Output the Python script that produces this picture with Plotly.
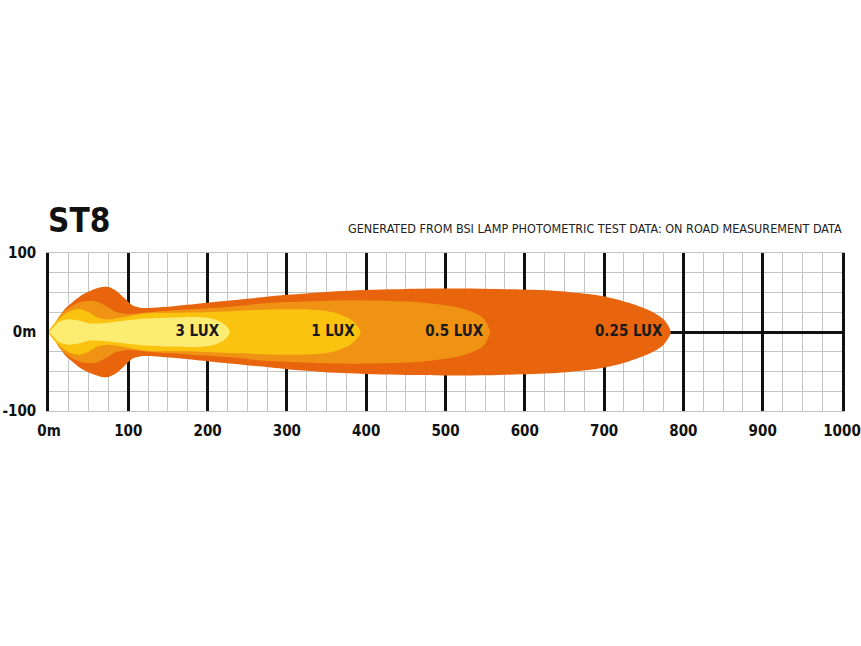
import plotly.graph_objects as go

# ---- data: beam contour half-widths (m) along distance (m) ----
lux025_x = [0, 10, 20, 30, 40, 54, 65, 75, 85, 95, 105, 118, 135, 160, 200, 250, 300, 370, 450, 520, 580, 640, 695, 730, 758, 775, 784]
lux025_h = [0, 14, 29, 38, 46, 53, 56.5, 57, 52, 43, 34, 30.5, 31, 33, 37, 42, 47, 52, 54.5, 55, 54, 52, 46, 37.5, 27, 16, 0]

lux05_x = [0, 6, 12, 20, 29, 37, 45, 58, 66, 75, 83, 95, 110, 125, 150, 184, 230, 268, 320, 367, 420, 470, 500, 520, 535, 548, 556]
lux05_h = [0, 8, 19, 27, 33, 37, 39, 39, 36, 31, 26, 23, 23, 25, 27, 29, 32, 36, 38.5, 40, 39.5, 37.5, 34, 30, 25, 17, 0]

lux1_x = [0, 7.6, 15, 24, 37, 50, 62, 75, 90, 121, 184, 241, 280, 325, 350, 367, 380, 388, 393]
lux1_h = [0, 12, 19, 25, 29, 25, 18, 16, 18, 23.7, 24.6, 27, 28.5, 28.5, 26.5, 22, 16, 9, 0]

lux3_x = [0, 6, 12, 24, 37, 50, 65, 80, 121, 160, 184, 205, 218, 225, 228]
lux3_h = [0, 6, 12.4, 16, 14.5, 11, 11, 12.5, 17, 18.5, 19, 17, 12, 6, 0]

label_text = ["3 LUX", "1 LUX", "0.5 LUX", "0.25 LUX"]
label_x = [187, 358, 511, 731]
label_y = [0, 0, 0, 0]

x_tickvals = [0, 100, 200, 300, 400, 500, 600, 700, 800, 900, 1000]
x_ticktext = ["0m", "100", "200", "300", "400", "500", "600", "700", "800", "900", "1000"]
y_tickvals = [-100, 0, 100]
y_ticktext = ["-100", "0m", "100"]

colors = ["#E8650E", "#F09214", "#FAC30F", "#FDEC72"]

FONT = "DejaVu Sans Condensed, Liberation Sans Narrow, Roboto, sans-serif"


def closed(xs, hs):
    x = list(xs) + list(xs[::-1][1:])
    y = list(hs) + [-h for h in hs[::-1][1:]]
    return x, y


fig = go.Figure()
for (xs, hs), c in zip([(lux025_x, lux025_h), (lux05_x, lux05_h), (lux1_x, lux1_h), (lux3_x, lux3_h)], colors):
    px, py = closed(xs, hs)
    fig.add_trace(go.Scatter(x=px, y=py, mode="lines", fill="toself", fillcolor=c,
                             line=dict(color=c, width=0, shape="spline", smoothing=0.8),
                             hoverinfo="skip", showlegend=False))

fig.add_trace(go.Scatter(x=label_x, y=label_y, mode="text", text=label_text,
                         textfont=dict(family=FONT, size=15, color="#1a1a1a", weight="bold"),
                         hoverinfo="skip", showlegend=False))

fig.update_xaxes(range=[0, 1000], tickvals=x_tickvals, ticktext=x_ticktext,
                 showgrid=True, gridcolor="#111111", gridwidth=2.5,
                 minor=dict(dtick=25, tick0=0, showgrid=True, gridcolor="#c4c4c4", gridwidth=1),
                 zeroline=False, showline=True, linecolor="#c4c4c4", linewidth=1, mirror=True,
                 ticks="", tickfont=dict(family=FONT, size=15, color="#111111", weight="bold"),
                 ticklabelstandoff=6, layer="below traces", automargin=False)
fig.update_yaxes(range=[-100, 100], tickvals=y_tickvals, ticktext=y_ticktext,
                 showgrid=True, gridcolor="#c4c4c4", gridwidth=1,
                 minor=dict(dtick=25, tick0=0, showgrid=True, gridcolor="#c4c4c4", gridwidth=1),
                 zeroline=True, zerolinecolor="#111111", zerolinewidth=2.5,
                 showline=True, linecolor="#111111", linewidth=2.5, mirror=True,
                 ticks="", tickfont=dict(family=FONT, size=15, color="#111111", weight="bold"),
                 ticklabelstandoff=7, layer="below traces", automargin=False)

fig.add_annotation(text="<b>ST8</b>", xref="paper", yref="paper", x=0, y=1.0, yshift=11, xshift=-3,
                   xanchor="left", yanchor="bottom", showarrow=False,
                   font=dict(family=FONT, size=33, color="#111111"))
fig.add_annotation(text="GENERATED FROM BSI LAMP PHOTOMETRIC TEST DATA: ON ROAD MEASUREMENT DATA",
                   xref="paper", yref="paper", x=1.0, y=1.0, yshift=15, xshift=2,
                   xanchor="right", yanchor="bottom", showarrow=False,
                   font=dict(family=FONT, size=12.5, color="#222222"))

fig.update_layout(width=861, height=646, margin=dict(l=49, r=19, t=253, b=235),
                  plot_bgcolor="white", paper_bgcolor="white")

fig.write_html("out.html", config={"displayModeBar": False},
               post_script="document.body.style.margin='0';")
